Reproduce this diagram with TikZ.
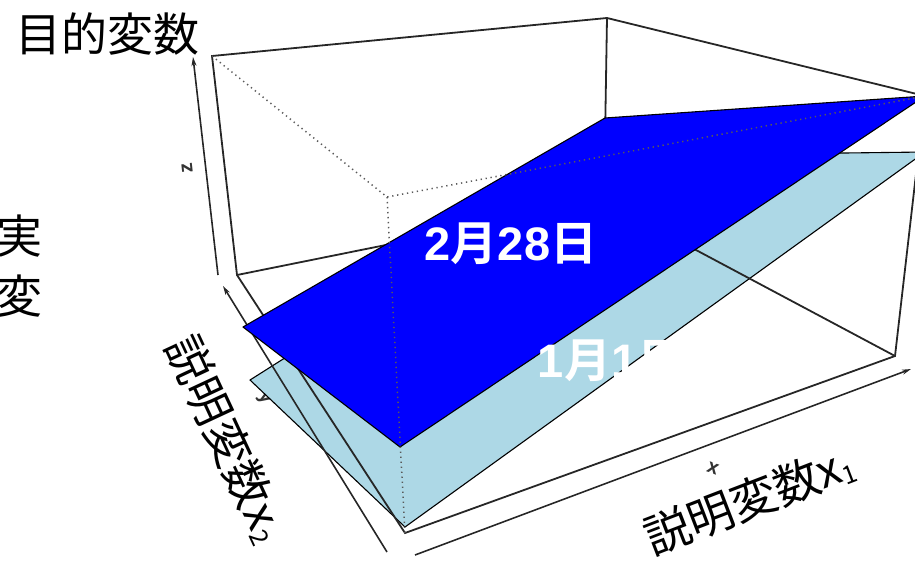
\documentclass[tikz,border=0pt]{standalone}
\usepackage{fontspec}
\usetikzlibrary{arrows.meta}
\newfontfamily\jp{Noto Sans CJK JP}[BoldFont={Noto Sans CJK JP Bold}]
\newfontfamily\lib{Liberation Sans}
\definecolor{planeblue}{RGB}{0,0,255}
\definecolor{lightplane}{RGB}{173,216,230}
\tikzset{
  boxline/.style={line width=1.8pt, draw=black!85, line cap=round},
  hiddenline/.style={line width=1.5pt, draw=black!65, dash pattern=on 1.3pt off 3.7pt},
  planeface/.style={draw=black, line width=1.1pt, line join=round},
  axisarrow/.style={line width=1.6pt, draw=black!85, -{Stealth[length=9pt,width=5pt]}},
  bigjp/.style={font=\jp\fontsize{46}{50}\selectfont, inner sep=0pt},
  datelabel/.style={text=white, inner sep=0pt, font=\fontsize{47}{50}\selectfont},
  axlbl/.style={font=\lib\bfseries\fontsize{20}{20}\selectfont, inner sep=0pt, text=black!80}
}
\begin{document}
\begin{tikzpicture}[x=1pt,y=-1pt]
\useasboundingbox (0,0) rectangle (915,560);
\clip (0,0) rectangle (915,560);
% box corners
\coordinate (A) at (212,56);
\coordinate (B) at (607,18);
\coordinate (C) at (925,96);
\coordinate (H) at (387,197);
\coordinate (Ab) at (237,275);
\coordinate (Bb) at (604,201);
\coordinate (Cb) at (895,356);
\coordinate (Hb) at (405,533);
% blue plane
\coordinate (P1) at (243,327);
\coordinate (P2) at (605,118);
\coordinate (P4) at (400,447);
% light blue plane
\coordinate (Q1) at (250,380);
\coordinate (Q2) at (604,156);
\coordinate (Q3) at (925,152);
\coordinate (Q4) at (405,527);
% axes
\coordinate (Z0) at (218,275);
\coordinate (Z1) at (193,57);
\coordinate (Y0) at (387,552);
\coordinate (Y1) at (223,286);
\coordinate (X0) at (415,555);
\coordinate (X1) at (911,369);

% small axis label y (partly under the light plane)
\node[axlbl, rotate=-58] (ylab) at (264,399) {y};

% light blue plane
\fill[lightplane] (Q1) -- (Q2) -- (Q3) -- (Q4) -- cycle;
\draw[planeface] (Q1) -- (Q2) -- (Q3) -- (Q4) -- cycle;

% solid box edges
\draw[boxline] (A) -- (B) -- (C) -- (Cb) -- (Hb) -- (Ab) -- cycle;
\draw[boxline] (B) -- (Bb);
\draw[boxline] (Ab) -- (Bb) -- (Cb);

% axis arrows
\draw[axisarrow] (Z0) -- (Z1);
\draw[axisarrow] (Y0) -- (Y1);
\draw[axisarrow] (X0) -- (X1);

% blue plane
\fill[planeblue] (P1) -- (P2) -- (C) -- (P4) -- cycle;
\draw[planeface] (P1) -- (P2) -- (C) -- (P4) -- cycle;

% hidden edges
\draw[hiddenline] (A) -- (H) -- (C);
\draw[hiddenline] (H) -- (Hb);

% axis letters
\node[axlbl, rotate=96] (zlab) at (187,168) {z};
\node[axlbl, rotate=-20] (xlab) at (713,468) {x};

% titles
\node[bigjp] (target) at (108,34) {目的変数};
\node[bigjp] (jitsu) at (19.5,236.5) {実};
\node[bigjp] (hen) at (19.5,296) {変};
\node[bigjp, anchor=base west, rotate=21] (xone) at (652,556)
  {説明変数x\raisebox{-4pt}{\fontsize{25}{25}\selectfont 1}};
\node[bigjp, anchor=base west, rotate=-65] (xtwo) at (164.4,345.6)
  {説明変数x\raisebox{-4pt}{\fontsize{25}{25}\selectfont 2}};

% date labels
\node[datelabel] (feb) at (511,244)
  {{\lib\bfseries 2}{\jp\bfseries 月}{\lib\bfseries 28}{\jp\bfseries 日}};
\node[datelabel] (jan) at (611,361)
  {{\lib\bfseries 1}{\jp\bfseries 月}{\lib\bfseries 1}{\jp\bfseries 日}};
\end{tikzpicture}
\end{document}
